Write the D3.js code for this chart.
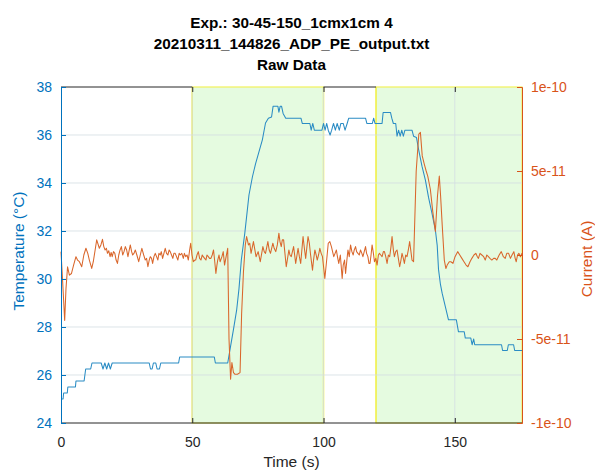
<!DOCTYPE html>
<html><head><meta charset="utf-8">
<script src="https://cdn.jsdelivr.net/npm/d3@7"></script>
<style>body{margin:0;background:#fff}svg{display:block}</style>
</head><body>
<svg id="c" width="595" height="470"></svg>
<script>
// ---------- data ----------
const titleLines = ["Exp.: 30-45-150_1cmx1cm 4", "20210311_144826_ADP_PE_output.txt", "Raw Data"];
const xLabel = "Time (s)";
const yLeftLabel = "Temperature (\u00B0C)";
const yRightLabel = "Current (A)";
const xTicks = [0, 50, 100, 150];
const tempTicks = [24, 26, 28, 30, 32, 34, 36, 38];
const currentTicks = [-1e-10, -5e-11, 0, 5e-11, 1e-10];
const currentTickLabels = ["-1e-10", "-5e-11", "0", "5e-11", "1e-10"];
const shadedIntervals = [[50, 100], [120, 175.6]];
const markerTimes = [50, 100, 120];

const tempTime = [0,0.8,1.0,2.4,2.6,5.5,5.7,8.8,9.4,11.3,11.8,15.3,16.0,16.7,17.4,18.1,18.8,19.5,33.6,34.1,34.7,35.2,36.1,36.6,37.5,38.0,44.8,45.2,58.4,58.8,63.5,64.6,65.7,66.9,67.8,68.7,70.0,70.7,71.6,72.9,74.1,75.4,76.7,77.9,79.0,80.2,80.8,82.6,83.0,83.5,84.0,84.6,85.6,91.4,91.9,94.8,95.3,95.9,96.5,99.4,100.0,100.6,101.2,101.8,102.5,103.1,103.8,104.5,105.2,106.0,106.6,107.5,108.2,109.0,109.6,116.0,116.5,118.6,119.1,119.6,122.3,122.7,125.5,126.0,126.6,127.5,128.0,128.6,129.2,129.8,130.4,131.0,133.7,134.3,135.4,136.2,137.5,138.8,140.0,141.3,142.6,143.3,143.8,144.5,145.2,146.4,147.6,150.6,151.4,153.6,154.0,156.1,156.6,157.2,157.6,158.0,167.8,168.2,170.0,170.4,172.4,172.8,175.6];
const tempValue = [25.0,25.0,25.25,25.25,25.5,25.5,25.75,25.75,26.25,26.25,26.5,26.5,26.25,26.5,26.25,26.5,26.25,26.5,26.5,26.25,26.25,26.5,26.5,26.25,26.25,26.5,26.5,26.75,26.75,26.5,26.5,27.2,27.9,28.7,29.6,30.8,31.9,32.6,33.5,34.25,34.8,35.3,35.8,36.5,36.7,36.75,37.2,37.2,36.95,37.2,37.2,36.9,36.7,36.7,36.48,36.48,36.2,36.48,36.2,36.2,36.48,36.2,36.48,36.2,36.0,36.2,36.48,36.2,36.48,36.2,36.48,36.48,36.2,36.48,36.7,36.7,36.48,36.48,36.7,36.48,36.48,36.94,36.94,36.7,36.48,36.48,35.95,36.2,35.95,36.2,35.95,36.2,36.2,35.95,35.9,35.4,34.7,34.12,33.4,32.74,32.04,31.4,30.4,29.8,29.4,28.85,28.3,28.3,27.8,27.8,27.54,27.54,27.26,27.5,27.26,27.26,27.26,27.02,27.02,27.26,27.26,27.02,27.02];

const currTime = [0,0.6,1.4,1.9,2.5,3.2,4.0,4.8,5.7,6.3,7.0,7.9,8.7,9.5,10.2,10.8,11.7,12.3,13.0,13.6,14.6,15.2,15.8,16.3,16.8,17.3,17.7,18.2,18.7,19.1,19.5,20.0,20.5,21.0,21.5,22.0,22.5,23.0,23.5,24.0,24.5,25.0,25.5,26.0,26.4,26.9,27.3,27.8,28.3,28.9,29.6,30.2,30.8,31.5,32.1,32.6,33.1,33.6,34.0,34.5,34.9,35.4,35.9,36.4,36.9,37.3,37.8,38.2,38.7,39.2,39.7,40.2,40.7,41.2,41.6,42.1,42.6,43.0,43.5,44.0,44.5,45.0,45.4,46.0,46.6,47.0,47.5,48.0,48.5,49.0,49.4,49.9,50.4,51.0,51.3,51.8,52.3,52.8,53.3,53.8,54.2,54.7,55.2,55.6,56.1,56.6,57.1,57.6,58.1,58.5,59.0,59.4,59.7,60.2,60.6,61.3,61.8,62.3,62.9,63.5,64.0,64.6,65.1,65.7,66.3,67.2,68.2,68.8,69.5,70.2,70.7,71.4,71.9,72.4,73.3,74.3,75.1,75.9,76.9,77.4,77.9,78.8,79.3,79.8,80.7,81.2,81.8,82.4,83.0,83.4,83.9,84.3,84.8,85.8,86.3,86.8,87.2,87.7,88.6,89.4,89.9,90.3,90.8,91.3,92.2,92.7,93.2,94.1,94.6,95.0,95.8,96.2,96.7,97.2,97.6,98.1,98.6,99.1,99.6,100.5,101.2,101.8,102.4,103.0,103.9,104.4,104.9,105.3,105.8,106.4,107.1,107.5,108.0,108.4,108.9,109.3,109.8,110.3,110.8,111.3,111.7,112.2,112.6,113.1,113.6,114.1,114.6,115.0,115.5,116.0,116.4,116.9,117.3,117.7,118.1,118.5,119.0,119.4,119.9,120.4,120.9,121.3,121.8,122.3,122.8,123.2,123.7,124.2,124.7,125.2,125.7,126.1,126.6,127.0,127.5,128.0,128.5,129.0,129.5,129.9,130.4,130.8,131.3,131.8,132.3,132.8,133.3,133.7,134.3,135.3,136.3,136.9,137.6,138.4,139.1,139.7,140.2,140.7,141.6,142.6,143.4,144.1,144.6,145.2,146.0,146.6,147.1,147.9,148.5,149.3,150.1,151.1,151.9,152.7,153.5,154.3,155.0,155.8,156.5,157.3,158.0,158.6,159.0,159.6,160.3,161.0,161.6,162.2,162.8,163.4,164.1,164.8,165.4,166.0,166.9,167.7,168.5,169.2,169.8,170.5,171.2,171.8,172.5,173.0,173.4,173.9,174.4,175.0,175.6];
// current values in units of 1e-11 A
const currValue = [0.2,-1.5,-3.9,-2.0,-0.7,-1.2,-1.1,-0.6,-0.1,-0.3,-0.4,-0.7,0.0,0.4,0.1,-0.3,-0.8,-0.4,0.3,0.9,0.4,0.6,0.93,0.5,0.3,0.4,0.1,0.25,-0.1,0.15,-0.1,0.2,0.1,-0.3,-0.5,0.0,0.3,0.5,0.0,0.2,0.5,0.3,-0.1,0.3,0.6,0.2,0.0,0.1,0.3,0.0,-0.4,0.0,0.4,0.0,-0.3,-0.2,-0.7,-0.3,-0.1,-0.2,-0.5,-0.1,0.1,-0.1,-0.3,0.1,0.0,0.2,-0.2,0.1,0.4,0.1,0.0,0.3,0.2,0.0,-0.2,0.1,0.1,-0.1,-0.3,0.1,0.0,0.1,-0.2,0.1,-0.1,0.0,-0.3,0.3,0.7,0.0,-0.4,-0.3,-0.3,0.0,0.2,-0.2,-0.3,0.0,-0.1,-0.2,-0.3,0.0,-0.1,-0.2,-0.2,0.0,0.3,-0.3,-1.1,-0.6,-0.3,0.0,-0.4,-0.1,0.2,-0.6,-0.1,0.4,-5.0,-7.4,-6.4,-7.0,-7.1,-7.1,-7.0,-3.5,-1.0,0.6,1.1,0.6,0.7,0.1,0.8,-0.1,0.2,-0.4,0.5,0.2,0.1,0.8,0.3,0.1,0.7,0.4,0.2,0.6,1.3,0.8,0.5,0.9,0.9,-0.7,-0.2,0.3,0.0,-0.1,0.5,-0.5,0.0,0.4,-0.1,-0.5,1.1,0.4,-0.2,1.1,0.7,0.1,-0.9,-0.3,0.3,0.0,-0.3,0.0,0.4,0.1,-0.1,-1.4,-0.3,0.7,0.8,0.5,-0.1,0.1,0.3,-0.1,-0.5,0.0,-1.4,-0.6,-0.3,-1.1,-0.3,0.3,-0.1,0.6,0.2,0.0,0.3,0.5,0.2,0.1,0.0,0.3,0.1,-0.1,0.2,0.5,0.1,-0.1,-0.5,-0.5,0.0,0.6,0.1,-0.4,-0.2,-0.6,0.0,0.1,0.0,-0.1,0.2,0.2,-0.1,-0.5,0.0,-0.1,0.5,1.1,0.3,-0.1,0.2,0.3,-0.2,-0.7,-0.3,0.1,-0.2,-0.5,0.0,-0.1,0.3,0.8,0.2,-0.3,-0.4,5.0,7.2,7.3,5.9,5.4,5.0,4.7,4.3,3.9,2.6,1.4,3.5,4.7,3.5,1.8,-0.3,-0.8,-0.6,-0.4,-0.4,-0.5,-0.1,0.2,0.0,-0.2,-0.4,-0.6,-0.7,-0.4,-0.2,0.0,0.1,-0.1,-0.2,0.1,0.0,-0.1,-0.3,0.0,-0.1,-0.2,-0.3,-0.2,-0.2,-0.3,0.0,0.2,-0.1,-0.2,0.1,0.1,-0.2,0.0,0.2,-0.2,-0.4,0.0,0.1,-0.1,0.1];

// ---------- layout ----------
const W = 595, H = 470;
const L = 61, R = 522, T = 87, B = 423;
const blue = "#0072BD", orange = "#D95319", dark = "#262626";
const blueLine = "#2a8cc4", orangeLine = "#d9662b";
const font = "'Liberation Sans', Arial, Helvetica, sans-serif";

const svg = d3.select("#c").attr("font-family", font);
const x = d3.scaleLinear().domain([0, 175.6]).range([L, R]);
const yT = d3.scaleLinear().domain([24, 38]).range([B, T]);
const yC = d3.scaleLinear().domain([-1e-10, 1e-10]).range([B, T]);

// shaded intervals
svg.append("g").selectAll("rect").data(shadedIntervals).join("rect")
  .attr("x", d => x(d[0])).attr("y", T)
  .attr("width", d => x(d[1]) - x(d[0])).attr("height", B - T)
  .attr("fill", "#e5fbe0").attr("stroke", "#f2f25a").attr("stroke-width", 1.2);
svg.append("g").selectAll("line").data(markerTimes).join("line")
  .attr("x1", d => x(d)).attr("x2", d => x(d)).attr("y1", T).attr("y2", B)
  .attr("stroke", "#f0f050").attr("stroke-width", 1.3);

// grid
const grid = svg.append("g").attr("stroke", "#d3dde2").attr("stroke-opacity", 0.8).attr("stroke-width", 1);
grid.selectAll(".gy").data(tempTicks.slice(1, -1)).join("line")
  .attr("x1", L).attr("x2", R).attr("y1", d => yT(d)).attr("y2", d => yT(d));
grid.selectAll(".gx").data(xTicks.slice(1)).join("line")
  .attr("y1", T).attr("y2", B).attr("x1", d => x(d)).attr("x2", d => x(d));

// lines
const tempData = tempTime.map((t, i) => [t, tempValue[i]]);
const currData = currTime.map((t, i) => [t, currValue[i] * 1e-11]);
svg.append("path").datum(tempData)
  .attr("d", d3.line().x(d => x(d[0])).y(d => yT(d[1])))
  .attr("fill", "none").attr("stroke", blueLine).attr("stroke-width", 1.05).attr("stroke-linejoin", "round");
svg.append("path").datum(currData)
  .attr("d", d3.line().x(d => x(d[0])).y(d => yC(d[1])))
  .attr("fill", "none").attr("stroke", orangeLine).attr("stroke-width", 1.05).attr("stroke-linejoin", "round");

// top & bottom box lines
svg.append("line").attr("x1", L).attr("x2", R).attr("y1", B).attr("y2", B).attr("stroke", dark).attr("stroke-width", 1);
svg.append("line").attr("x1", x(100)).attr("x2", x(120)).attr("y1", T).attr("y2", T).attr("stroke", dark).attr("stroke-width", 1);
svg.append("line").attr("x1", L).attr("x2", x(50)).attr("y1", T).attr("y2", T).attr("stroke", dark).attr("stroke-width", 1);

// axes
const tickFont = "14px";
const xb = svg.append("g").attr("transform", `translate(0,${B})`)
  .call(d3.axisBottom(x).tickValues(xTicks).tickSize(-5).tickPadding(14).tickFormat(d3.format("d")));
xb.select(".domain").remove();
xb.selectAll("line").attr("stroke", dark);
xb.selectAll("text").attr("fill", dark).style("font-size", tickFont);
const xt = svg.append("g").attr("transform", `translate(0,${T})`)
  .call(d3.axisTop(x).tickValues(xTicks.slice(1)).tickSize(-5).tickFormat(""));
xt.select(".domain").remove();
xt.selectAll("line").attr("stroke", dark);

const yl = svg.append("g").attr("transform", `translate(${L},0)`)
  .call(d3.axisLeft(yT).tickValues(tempTicks).tickSize(-5).tickPadding(9).tickFormat(d3.format("d")));
yl.select(".domain").attr("stroke", blue);
yl.selectAll("line").attr("stroke", blue);
yl.selectAll("text").attr("fill", blue).style("font-size", tickFont);

const yr = svg.append("g").attr("transform", `translate(${R},0)`)
  .call(d3.axisRight(yC).tickValues(currentTicks).tickSize(-5).tickPadding(9)
    .tickFormat((d, i) => currentTickLabels[i]));
yr.select(".domain").attr("stroke", orange);
yr.selectAll("line").attr("stroke", orange);
yr.selectAll("text").attr("fill", orange).style("font-size", tickFont);

// labels
svg.append("text").attr("x", (L + R) / 2).attr("y", 467).attr("text-anchor", "middle")
  .attr("fill", dark).style("font-size", "15.5px").text(xLabel);
svg.append("text").attr("transform", `translate(24,${(T + B) / 2 - 4}) rotate(-90)`).attr("text-anchor", "middle")
  .attr("fill", blue).style("font-size", "15.5px").text(yLeftLabel);
svg.append("text").attr("transform", `translate(592,${(T + B) / 2 + 4}) rotate(-90)`).attr("text-anchor", "middle")
  .attr("fill", orange).style("font-size", "15.5px").text(yRightLabel);

// title
const titleY = [28, 48.5, 69.5];
svg.append("g").selectAll("text").data(titleLines).join("text")
  .attr("x", (L + R) / 2).attr("y", (d, i) => titleY[i]).attr("text-anchor", "middle")
  .attr("font-weight", "bold").attr("fill", "#000").style("font-size", "15.3px").text(d => d);
</script>
</body></html>
